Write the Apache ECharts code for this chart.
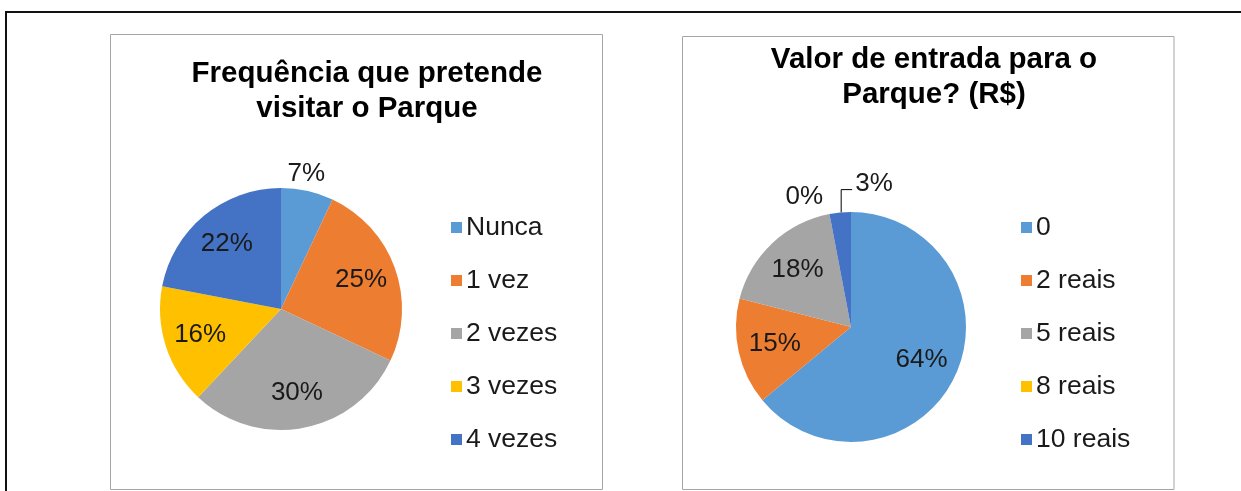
<!DOCTYPE html>
<html>
<head>
<meta charset="utf-8">
<script src="https://cdn.jsdelivr.net/npm/echarts@6/dist/echarts.min.js"></script>
<style>
	html, body { margin: 0; padding: 0; background: #fff; }
	#main { width: 1241px; height: 491px; }
</style>
</head>
<body>
<div id="main"></div>
<script>
// chart data
var freqTitle = 'Frequência que pretende\nvisitar o Parque';
var freqNames = [ 'Nunca', '1 vez', '2 vezes', '3 vezes', '4 vezes' ];
var freqValues = [ 7, 25, 30, 16, 22 ];
var freqOutside = [ 'Nunca' ];

var priceTitle = 'Valor de entrada para o\nParque? (R$)';
var priceNames = [ '0', '2 reais', '5 reais', '8 reais', '10 reais' ];
var priceValues = [ 64, 15, 18, 0, 3 ];
var priceOutside = [ '8 reais', '10 reais' ];

var sliceColors = [ '#5B9BD5', '#ED7D31', '#A5A5A5', '#FFC000', '#4472C4' ];

var FONT = 'Liberation Sans, Arial, sans-serif';
var TEXT_COLOR = '#1a1a1a';

// main pie: only the labels that sit outside the slice
function mainData(names, values, outside) {
	return names.map(function(n, i) {
		var out = outside.indexOf(n) >= 0;
		var leader = n === '10 reais';
		return {
			name : n,
			value : values[i],
			label : { show : out },
			labelLine : {
				show : out,
				length : leader ? 23 : 18,
				length2 : 0,
				lineStyle : { color : '#000', width : 1, opacity : leader ? 1 : 0 }
			}
		};
	});
}

// transparent twin pie only used to place the inner labels a bit further out
function labelData(names, values, outside) {
	return names.map(function(n, i) {
		return {
			name : n,
			value : values[i],
			label : { show : outside.indexOf(n) < 0 }
		};
	});
}

var labelStyle = {
	formatter : '{c}%',
	fontFamily : FONT,
	fontSize : 26,
	color : TEXT_COLOR
};

function pieLabelLayout(names) {
	return function(p) {
		var pts = p.labelLinePoints;
		if (!pts) {
			return;
		}
		var n = names[p.dataIndex];
		if (n === '10 reais') {
			// excel style leader: straight up, then a short step to the right
			var x0 = pts[0][0] + 1, yTop = pts[1][1];
			return {
				x : x0 + 14,
				y : yTop - 6,
				align : 'left',
				verticalAlign : 'middle',
				labelLinePoints : [ [ x0, pts[0][1] ], [ x0, yTop ], [ x0 + 11, yTop ] ]
			};
		}
		if (n === '8 reais') {
			return { x : pts[1][0] - 3, y : pts[1][1], align : 'right', verticalAlign : 'middle' };
		}
		return { x : pts[1][0] - 5, y : pts[1][1], align : 'center', verticalAlign : 'middle' };
	};
}

var myChart = echarts.init(document.getElementById('main'));

myChart.setOption({
	animation : false,
	color : sliceColors,
	graphic : [ {
		type : 'rect',
		shape : { x : 6, y : 12, width : 1400, height : 700 },
		style : { fill : null, stroke : '#111', lineWidth : 2 }
	}, {
		type : 'rect',
		shape : { x : 110.5, y : 34.5, width : 492, height : 455 },
		style : { fill : null, stroke : '#A6A6A6', lineWidth : 1 }
	}, {
		type : 'rect',
		shape : { x : 682.5, y : 36.5, width : 491.5, height : 453 },
		style : { fill : null, stroke : '#A6A6A6', lineWidth : 1 }
	} ],
	title : [ {
		text : freqTitle,
		left : 362,
		top : 51,
		textAlign : 'center',
		textStyle : { fontFamily : FONT, fontSize : 29.5, fontWeight : 'bold', color : '#000', lineHeight : 35 }
	}, {
		text : priceTitle,
		left : 929,
		top : 37,
		textAlign : 'center',
		textStyle : { fontFamily : FONT, fontSize : 29.5, fontWeight : 'bold', color : '#000', lineHeight : 35 }
	} ],
	legend : [ {
		data : freqNames,
		orient : 'vertical',
		left : 446,
		top : 209,
		icon : 'rect',
		itemWidth : 11,
		itemHeight : 11,
		itemGap : 26,
		textStyle : { fontFamily : FONT, fontSize : 26.5, color : TEXT_COLOR, lineHeight : 26, padding : [ 0, 0, 0, -1 ] }
	}, {
		data : priceNames,
		orient : 'vertical',
		left : 1016,
		top : 209,
		icon : 'rect',
		itemWidth : 11,
		itemHeight : 11,
		itemGap : 26,
		textStyle : { fontFamily : FONT, fontSize : 26.5, color : TEXT_COLOR, lineHeight : 26, padding : [ 0, 0, 0, -1 ] }
	} ],
	series : [ {
		type : 'pie',
		center : [ 281, 309 ],
		radius : 121,
		startAngle : 90,
		avoidLabelOverlap : false,
		itemStyle : { borderWidth : 0 },
		label : Object.assign({ position : 'outside' }, labelStyle),
		labelLayout : pieLabelLayout(freqNames),
		data : mainData(freqNames, freqValues, freqOutside)
	}, {
		type : 'pie',
		center : [ 281, 309 ],
		radius : 164,
		startAngle : 90,
		silent : true,
		avoidLabelOverlap : false,
		itemStyle : { color : 'rgba(0,0,0,0)', borderWidth : 0 },
		label : Object.assign({ position : 'inside' }, labelStyle),
		data : labelData(freqNames, freqValues, freqOutside)
	}, {
		type : 'pie',
		center : [ 851, 327 ],
		radius : 115,
		startAngle : 90,
		avoidLabelOverlap : false,
		itemStyle : { borderWidth : 0 },
		label : Object.assign({ position : 'outside' }, labelStyle),
		labelLayout : pieLabelLayout(priceNames),
		data : mainData(priceNames, priceValues, priceOutside)
	}, {
		type : 'pie',
		center : [ 851, 327 ],
		radius : 150,
		startAngle : 90,
		silent : true,
		avoidLabelOverlap : false,
		itemStyle : { color : 'rgba(0,0,0,0)', borderWidth : 0 },
		label : Object.assign({ position : 'inside' }, labelStyle),
		data : labelData(priceNames, priceValues, priceOutside)
	} ]
});
</script>
</body>
</html>
